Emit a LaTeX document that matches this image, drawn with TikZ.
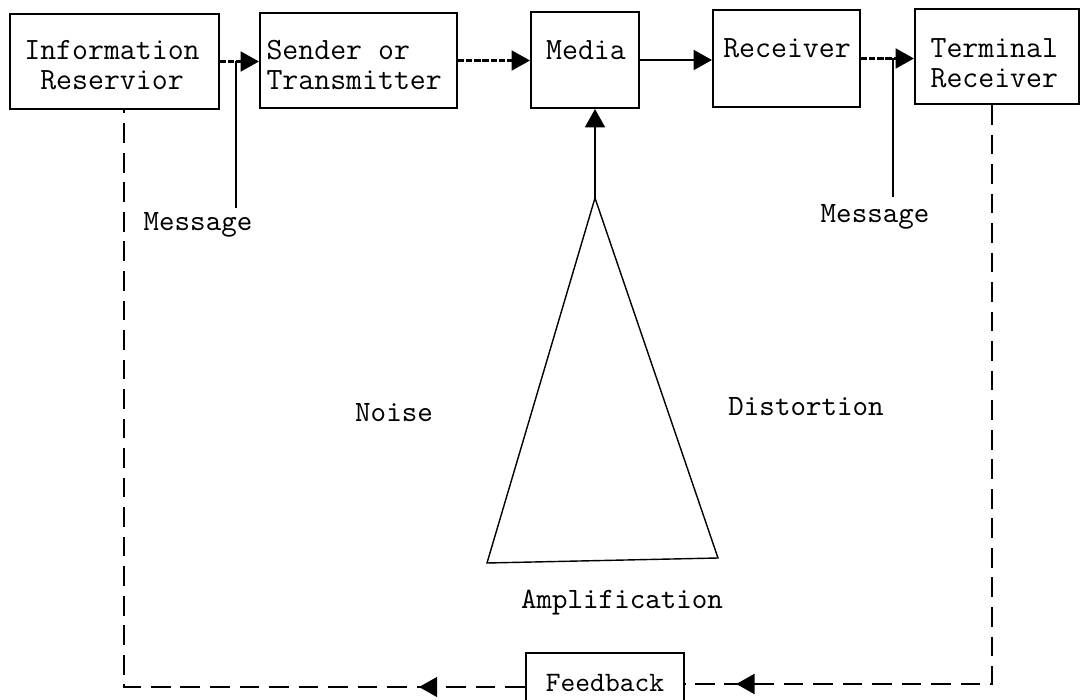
\documentclass[tikz,border=0pt]{standalone}
\usetikzlibrary{arrows.meta,decorations.markings}
\begin{document}
\begin{tikzpicture}[x=0.0125cm,y=-0.0125cm,
  box/.style={draw,line width=0.7pt,inner sep=0pt},
  txt/.style={font=\ttfamily\fontsize{11}{10.8}\selectfont,inner sep=0pt},
  lbl/.style={font=\ttfamily\fontsize{10.5}{12}\selectfont,inner sep=0pt},
  tipshape/.tip={Triangle[length=6.5pt,width=7pt]},
  flow/.style={line width=0.9pt,-tipshape},
  dotflow/.style={flow,dash pattern=on 2.2pt off 0.7pt},
  tap/.style={line width=0.9pt},
  cone/.style={line width=0.5pt},
  fb/.style={line width=1pt,dash pattern=on 7pt off 3.5pt},
  fbtip/.style={postaction={decorate},decoration={markings,
      mark=at position #1 with {\arrow{tipshape}}}}
]
\useasboundingbox (0,0) rectangle (1082,700);
\clip (0,0) rectangle (1082,700);

% main chain of boxes
\node[box,minimum width=2.6125cm,minimum height=1.1875cm] (info)  at (114.5,61.5) {};
\node[box,minimum width=2.4625cm,minimum height=1.1875cm] (send)  at (358.5,60.5) {};
\node[box,minimum width=1.35cm,  minimum height=1.2cm]    (media) at (585,60) {};
\node[box,minimum width=1.8375cm,minimum height=1.2125cm] (recv)  at (786.5,58.5) {};
\node[box,minimum width=2.05cm,  minimum height=1.1875cm] (term)  at (997,56.5) {};
\node[box,minimum width=1.975cm, minimum height=0.75cm]   (fbk)   at (605,683)
  {\ttfamily\fontsize{10}{12}\selectfont Feedback};

% box texts
\node[txt,align=center] (infoT) at (112,65) {Information\\Reservior};
\node[txt,align=left,anchor=west] (sendT) at (266,65) {Sender or\\Transmitter};
\node[txt] (mediaT) at (586,50) {Media};
\node[txt] (recvT) at (787,48) {Receiver};
\node[txt,align=left,anchor=west] (termT) at (930,63) {Terminal\\Receiver};

% forward flow
\draw[dotflow] (info.east) -- (info.east -| send.west);
\draw[dotflow] (send.east) -- (send.east -| media.west);
\draw[flow]    (media.east) -- (media.east -| recv.west);
\draw[dotflow] (recv.east) -- (recv.east -| term.west);

% message taps
\coordinate (tapL) at (236,208);
\coordinate (tapR) at (893,197);
\draw[tap] (tapL) -- (tapL |- info.east);
\draw[tap] (tapR) -- (tapR |- recv.east);
\node[lbl] (msgL) at (198,225) {Message};
\node[lbl] (msgR) at (875,217) {Message};

% noise / amplification cone
\coordinate (apex) at (595,198);
\coordinate (bl) at (487,563);
\coordinate (br) at (718,558);
\draw[cone] (apex) -- (bl) -- (br) -- cycle;
\draw[flow] (apex) -- (apex |- media.south);
\node[lbl] (noise) at (394,413) {Noise};
\node[lbl] (dist)  at (806,407) {Distortion};
\node[lbl] (amp)   at (622,603) {Amplification};

% feedback loop
\coordinate (cR) at (992,684);
\coordinate (cL) at (124,687);
\draw[fb,fbtip=-0.64cm] (term.south -| cR) -- (cR) -- (cR -| fbk.east);
\draw[fb,fbtip=1.325cm] (cL -| fbk.west) -- (cL) -- (cL |- info.south);
\end{tikzpicture}
\end{document}
